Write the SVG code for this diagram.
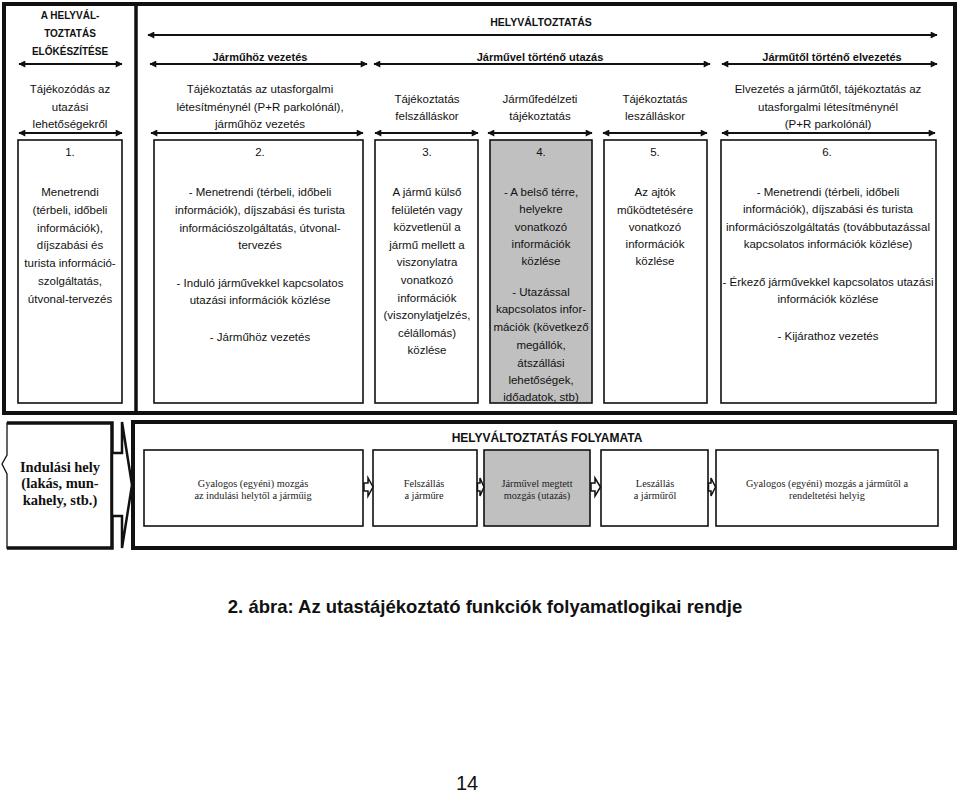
<svg xmlns="http://www.w3.org/2000/svg" width="960" height="795" viewBox="0 0 960 795">
<style>
.t{font-family:"Liberation Sans",Arial,sans-serif;font-size:11.5px;text-anchor:middle;fill:#111}
.hb{font-family:"Liberation Sans",Arial,sans-serif;font-weight:bold;text-anchor:middle;fill:#111}
.s{font-family:"Liberation Serif","Times New Roman",serif;font-size:10.3px;text-anchor:middle;fill:#222}
.sb{font-family:"Liberation Serif","Times New Roman",serif;font-size:14.5px;font-weight:bold;text-anchor:middle;fill:#111}
.pn{font-family:"Liberation Sans",Arial,sans-serif;font-size:20px;text-anchor:middle;fill:#111}
.box{fill:#fff;stroke:#111;stroke-width:1.6}
.gray{fill:#c0c0c0;stroke:#111;stroke-width:1.6}
.frame{fill:none;stroke:#111;stroke-width:4}
.arr{stroke:#111;stroke-width:2;fill:none;marker-start:url(#ah);marker-end:url(#ah)}
.barr{fill:#fff;stroke:#111;stroke-width:1.5;stroke-linejoin:miter}
</style>
<defs>
<marker id="ah" viewBox="0 0 10 10" refX="9" refY="5" markerWidth="9" markerHeight="7" markerUnits="userSpaceOnUse" orient="auto-start-reverse">
<path d="M0,0 L10,5 L0,10 z" fill="#111"/>
</marker>
</defs>
<rect width="960" height="795" fill="#fff"/>

<!-- top frame -->
<g id="top-frame">
<rect class="frame" x="4" y="4" width="951" height="409"/>
<line x1="136" y1="4" x2="136" y2="413" stroke="#111" stroke-width="3.5"/>
</g>

<!-- headers -->
<g id="headers">
<text class="hb" font-size="10px" x="70" y="19">A HELYVÁL-</text>
<text class="hb" font-size="10px" x="70" y="37">TOZTATÁS</text>
<text class="hb" font-size="10px" x="70" y="55">ELŐKÉSZÍTÉSE</text>
<text class="hb" font-size="10.5px" x="541" y="26">HELYVÁLTOZTATÁS</text>
<text class="hb" font-size="11px" x="260" y="61">Járműhöz vezetés</text>
<text class="hb" font-size="11px" x="540" y="61">Járművel történő utazás</text>
<text class="hb" font-size="11px" x="832" y="61">Járműtől történő elvezetés</text>
</g>

<!-- connectors (span arrows) -->
<g id="connectors">
<line class="arr" x1="148" y1="35" x2="937" y2="35"/>
<line class="arr" x1="19" y1="64" x2="122" y2="64"/>
<line class="arr" x1="150" y1="64" x2="367" y2="64"/>
<line class="arr" x1="374" y1="64" x2="710" y2="64"/>
<line class="arr" x1="722" y1="64" x2="937" y2="64"/>
<line class="arr" x1="19" y1="133" x2="122" y2="133"/>
<line class="arr" x1="151" y1="133" x2="363" y2="133"/>
<line class="arr" x1="375" y1="133" x2="478" y2="133"/>
<line class="arr" x1="488" y1="133" x2="592" y2="133"/>
<line class="arr" x1="603" y1="133" x2="707" y2="133"/>
<line class="arr" x1="722" y1="133" x2="935" y2="133"/>
</g>

<!-- column titles -->
<g id="titles">
<text class="t" x="70" y="93">Tájékozódás az</text>
<text class="t" x="70" y="111">utazási</text>
<text class="t" x="70" y="128">lehetőségekről</text>
<text class="t" x="260" y="93">Tájékoztatás az utasforgalmi</text>
<text class="t" x="260" y="111">létesítménynél (P+R parkolónál),</text>
<text class="t" x="260" y="128">járműhöz vezetés</text>
<text class="t" x="427" y="103">Tájékoztatás</text>
<text class="t" x="427" y="120">felszálláskor</text>
<text class="t" x="540" y="103">Járműfedélzeti</text>
<text class="t" x="540" y="120">tájékoztatás</text>
<text class="t" x="655" y="103">Tájékoztatás</text>
<text class="t" x="655" y="120">leszálláskor</text>
<text class="t" x="828" y="93">Elvezetés a járműtől, tájékoztatás az</text>
<text class="t" x="828" y="111">utasforgalmi létesítménynél</text>
<text class="t" x="828" y="128">(P+R parkolónál)</text>
</g>

<g id="col1">
<rect class="box" x="18" y="140" width="104" height="263"/>
<text class="t" x="70" y="156">1.</text>
<text class="t" x="70" y="196">Menetrendi</text>
<text class="t" x="70" y="214">(térbeli, időbeli</text>
<text class="t" x="70" y="231.5">információk),</text>
<text class="t" x="70" y="249">díjszabási és</text>
<text class="t" x="70" y="267">turista információ-</text>
<text class="t" x="70" y="285">szolgáltatás,</text>
<text class="t" x="70" y="303">útvonal-tervezés</text>
</g>

<g id="col2">
<rect class="box" x="154" y="140" width="209" height="263"/>
<text class="t" x="260" y="156">2.</text>
<text class="t" x="260" y="196">- Menetrendi (térbeli, időbeli</text>
<text class="t" x="260" y="214">információk), díjszabási és turista</text>
<text class="t" x="260" y="231.5">információszolgáltatás, útvonal-</text>
<text class="t" x="260" y="249">tervezés</text>
<text class="t" x="260" y="287">- Induló járművekkel kapcsolatos</text>
<text class="t" x="260" y="304">utazási információk közlése</text>
<text class="t" x="260" y="341">- Járműhöz vezetés</text>
</g>

<g id="col3">
<rect class="box" x="375" y="140" width="103" height="263"/>
<text class="t" x="427" y="156">3.</text>
<text class="t" x="427" y="196">A jármű külső</text>
<text class="t" x="427" y="213.6">felületén vagy</text>
<text class="t" x="427" y="231.2">közvetlenül a</text>
<text class="t" x="427" y="248.8">jármű mellett a</text>
<text class="t" x="427" y="266.4">viszonylatra</text>
<text class="t" x="427" y="284">vonatkozó</text>
<text class="t" x="427" y="301.6">információk</text>
<text class="t" x="427" y="319.2">(viszonylatjelzés,</text>
<text class="t" x="427" y="336.8">célállomás)</text>
<text class="t" x="427" y="354.4">közlése</text>
</g>

<g id="col4">
<rect class="gray" x="490" y="140" width="102" height="263"/>
<text class="t" x="541" y="156">4.</text>
<text class="t" x="541" y="196">- A belső térre,</text>
<text class="t" x="541" y="213">helyekre</text>
<text class="t" x="541" y="230.5">vonatkozó</text>
<text class="t" x="541" y="248">információk</text>
<text class="t" x="541" y="265">közlése</text>
<text class="t" x="541" y="296">- Utazással</text>
<text class="t" x="541" y="313">kapcsolatos infor-</text>
<text class="t" x="541" y="331">mációk (következő</text>
<text class="t" x="541" y="349">megállók,</text>
<text class="t" x="541" y="366.5">átszállási</text>
<text class="t" x="541" y="384">lehetőségek,</text>
<text class="t" x="541" y="401">időadatok, stb)</text>
</g>

<g id="col5">
<rect class="box" x="604" y="140" width="103" height="263"/>
<text class="t" x="655" y="156">5.</text>
<text class="t" x="655" y="196">Az ajtók</text>
<text class="t" x="655" y="213.5">működtetésére</text>
<text class="t" x="655" y="231">vonatkozó</text>
<text class="t" x="655" y="248">információk</text>
<text class="t" x="655" y="265">közlése</text>
</g>

<g id="col6">
<rect class="box" x="721" y="140" width="215" height="263"/>
<text class="t" x="827" y="156">6.</text>
<text class="t" x="828" y="196">- Menetrendi (térbeli, időbeli</text>
<text class="t" x="828" y="213">információk), díjszabási és turista</text>
<text class="t" x="828" y="230.5">információszolgáltatás (továbbutazással</text>
<text class="t" x="828" y="248">kapcsolatos információk közlése)</text>
<text class="t" x="828" y="286">- Érkező járművekkel kapcsolatos utazási</text>
<text class="t" x="828" y="303">információk közlése</text>
<text class="t" x="828" y="340">- Kijárathoz vezetés</text>
</g>

<!-- bottom section -->
<g id="start-place">
<path d="M7,423 H112 V548 H7 V474 L2,464 L7,455 Z" fill="#fff" stroke="#111" stroke-width="1.3"/>
<polyline points="7,423 112,423 112,548 7,548" fill="none" stroke="#111" stroke-width="3.5"/>
<text class="sb" x="60" y="472">Indulási hely</text>
<text class="sb" x="60" y="488">(lakás, mun-</text>
<text class="sb" x="60" y="505">kahely, stb.)</text>
</g>

<g id="big-arrow">
<polygon points="112,453 122,453 122,422 132,485 122,548 122,516 112,516" fill="#fff" stroke="#111" stroke-width="2.5"/>
</g>

<g id="process-frame">
<rect class="frame" x="133" y="422" width="822" height="126"/>
<text class="hb" font-size="12px" x="547" y="442">HELYVÁLTOZTATÁS FOLYAMATA</text>
</g>

<g id="p1">
<rect class="box" x="144" y="450" width="219" height="76"/>
<text class="s" x="253" y="486.5">Gyalogos (egyéni) mozgás</text>
<text class="s" x="253" y="498.5">az indulási helytől a járműig</text>
</g>
<g id="p2">
<rect class="box" x="373" y="450" width="104" height="76"/>
<text class="s" x="424" y="486.5">Felszállás</text>
<text class="s" x="424" y="498.5">a járműre</text>
</g>
<g id="p3">
<rect class="gray" x="484" y="450" width="106" height="76"/>
<text class="s" x="537" y="486.5">Járművel megtett</text>
<text class="s" x="537" y="498.5">mozgás (utazás)</text>
</g>
<g id="p4">
<rect class="box" x="601" y="450" width="107" height="76"/>
<text class="s" x="655" y="486.5">Leszállás</text>
<text class="s" x="655" y="498.5">a járműről</text>
</g>
<g id="p5">
<rect class="box" x="716" y="450" width="222" height="76"/>
<text class="s" x="827" y="486.5">Gyalogos (egyéni) mozgás a járműtől a</text>
<text class="s" x="827" y="498.5">rendeltetési helyig</text>
</g>

<g id="process-connectors">
<polygon class="barr" points="364,483 368,483 368,478 373,487 368,496 368,491 364,491"/>
<polygon class="barr" points="477.5,483 480,483 480,478 484,487 480,496 480,491 477.5,491"/>
<polygon class="barr" points="591,483 595,483 595,478 600.5,487 595,496 595,491 591,491"/>
<polygon class="barr" points="708.5,483 711,483 711,478 715.5,487 711,496 711,491 708.5,491"/>
</g>

<g id="caption">
<text class="hb" font-size="18.5px" x="485" y="613">2. ábra: Az utastájékoztató funkciók folyamatlogikai rendje</text>
<text class="pn" x="467" y="790">14</text>
</g>
</svg>
